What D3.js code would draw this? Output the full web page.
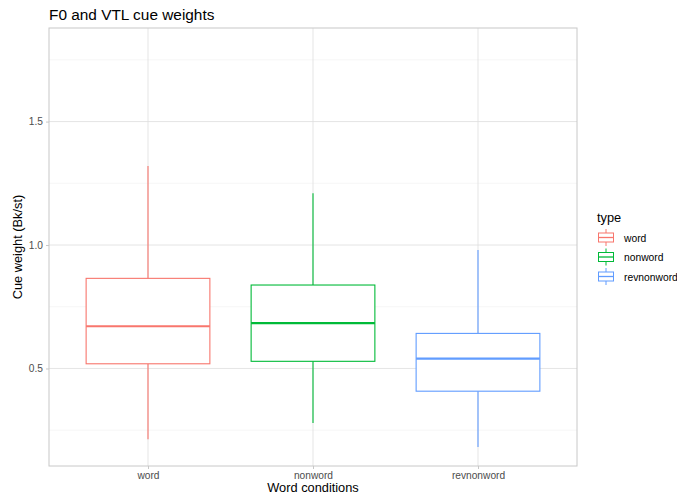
<!DOCTYPE html>
<html><head><meta charset="utf-8">
<script src="https://cdn.jsdelivr.net/npm/d3@7"></script>
<style>body{margin:0;background:#fff}text{font-family:"Liberation Sans",Arial,sans-serif}</style>
</head><body>
<svg id="c" width="677" height="497"></svg>
<script>
const categories = ["word","nonword","revnonword"];
const whiskerLow = [0.213, 0.279, 0.182];
const q1 = [0.519, 0.529, 0.408];
const median = [0.671, 0.684, 0.540];
const q3 = [0.865, 0.838, 0.642];
const whiskerHigh = [1.32, 1.21, 0.98];
const colors = ["#F8766D","#00BA38","#619CFF"];
const yTicks = [0.5, 1.0, 1.5];
const yMinor = [0.25, 0.75, 1.25, 1.75];

const svg = d3.select("#c");
const L = 49, R = 577, T = 28, B = 466;
const y = d3.scaleLinear().domain([0.105, 1.879]).range([B, T]);
const x = d3.scalePoint().domain(categories).range([L, R]).padding(0.6);
const step = x.step();
const bw = step * 0.75;

// gridlines
svg.append("g").selectAll("line").data(yMinor).join("line")
  .attr("x1", L).attr("x2", R).attr("y1", d => y(d)).attr("y2", d => y(d))
  .attr("stroke", "#EDEDED").attr("stroke-width", 0.5);
svg.append("g").selectAll("line").data(yTicks).join("line")
  .attr("x1", L).attr("x2", R).attr("y1", d => y(d)).attr("y2", d => y(d))
  .attr("stroke", "#DEDEDE").attr("stroke-width", 0.8);
svg.append("g").selectAll("line").data(categories).join("line")
  .attr("x1", d => x(d)).attr("x2", d => x(d)).attr("y1", T).attr("y2", B)
  .attr("stroke", "#DEDEDE").attr("stroke-width", 0.8);

// boxes
const data = categories.map((c, i) => ({c, lo: whiskerLow[i], q1: q1[i], med: median[i], q3: q3[i], hi: whiskerHigh[i], col: colors[i]}));
const g = svg.append("g").selectAll("g").data(data).join("g");
g.append("line").attr("x1", d => x(d.c)).attr("x2", d => x(d.c))
  .attr("y1", d => y(d.q3)).attr("y2", d => y(d.hi)).attr("stroke", d => d.col).attr("stroke-width", 1.1);
g.append("line").attr("x1", d => x(d.c)).attr("x2", d => x(d.c))
  .attr("y1", d => y(d.q1)).attr("y2", d => y(d.lo)).attr("stroke", d => d.col).attr("stroke-width", 1.1);
g.append("rect").attr("x", d => x(d.c) - bw/2).attr("width", bw)
  .attr("y", d => y(d.q3)).attr("height", d => y(d.q1) - y(d.q3))
  .attr("fill", "#fff").attr("stroke", d => d.col).attr("stroke-width", 1.1);
g.append("line").attr("x1", d => x(d.c) - bw/2).attr("x2", d => x(d.c) + bw/2)
  .attr("y1", d => y(d.med)).attr("y2", d => y(d.med)).attr("stroke", d => d.col).attr("stroke-width", 2.2);

// panel border
svg.append("rect").attr("x", L).attr("y", T).attr("width", R - L).attr("height", B - T)
  .attr("fill", "none").attr("stroke", "#C8C8C8").attr("stroke-width", 1);

// axes
const ya = svg.append("g").attr("transform", `translate(${L},0)`)
  .call(d3.axisLeft(y).tickValues(yTicks).tickFormat(d3.format(".1f")).tickSize(3).tickPadding(3));
const xa = svg.append("g").attr("transform", `translate(0,${B})`)
  .call(d3.axisBottom(x).tickSize(3).tickPadding(3));
[ya, xa].forEach(a => {
  a.select(".domain").remove();
  a.selectAll(".tick line").attr("stroke", "#C8C8C8");
  a.selectAll(".tick text").attr("fill", "#4D4D4D").style("font-size", "10.2px").style("font-family", '"Liberation Sans",Arial,sans-serif');
});

// titles
svg.append("text").attr("x", L).attr("y", 20).text("F0 and VTL cue weights")
  .style("font-size", "15.4px").attr("fill", "#000");
svg.append("text").attr("x", (L + R)/2).attr("y", 492).attr("text-anchor", "middle")
  .text("Word conditions").style("font-size", "12.8px");
svg.append("text").attr("transform", `translate(22,${(T + B)/2}) rotate(-90)`).attr("text-anchor", "middle")
  .text("Cue weight (Bk/st)").style("font-size", "12.8px");

// legend
const lg = svg.append("g").attr("transform", "translate(597,0)");
lg.append("text").attr("x", 0).attr("y", 222).text("type").style("font-size", "12.8px");
const items = lg.selectAll("g").data(data).join("g").attr("transform", (d, i) => `translate(0,${229 + i * 19.5})`);
items.append("line").attr("x1", 9).attr("x2", 9).attr("y1", 0).attr("y2", 17).attr("stroke", d => d.col).attr("stroke-width", 1);
items.append("rect").attr("x", 1.5).attr("y", 4).attr("width", 15).attr("height", 9)
  .attr("fill", "#fff").attr("stroke", d => d.col).attr("stroke-width", 1);
items.append("line").attr("x1", 1.5).attr("x2", 16.5).attr("y1", 8.5).attr("y2", 8.5).attr("stroke", d => d.col).attr("stroke-width", 1.3);
items.append("text").attr("x", 27).attr("y", 12.5).text(d => d.c).style("font-size", "10.3px");
</script>
</body></html>
